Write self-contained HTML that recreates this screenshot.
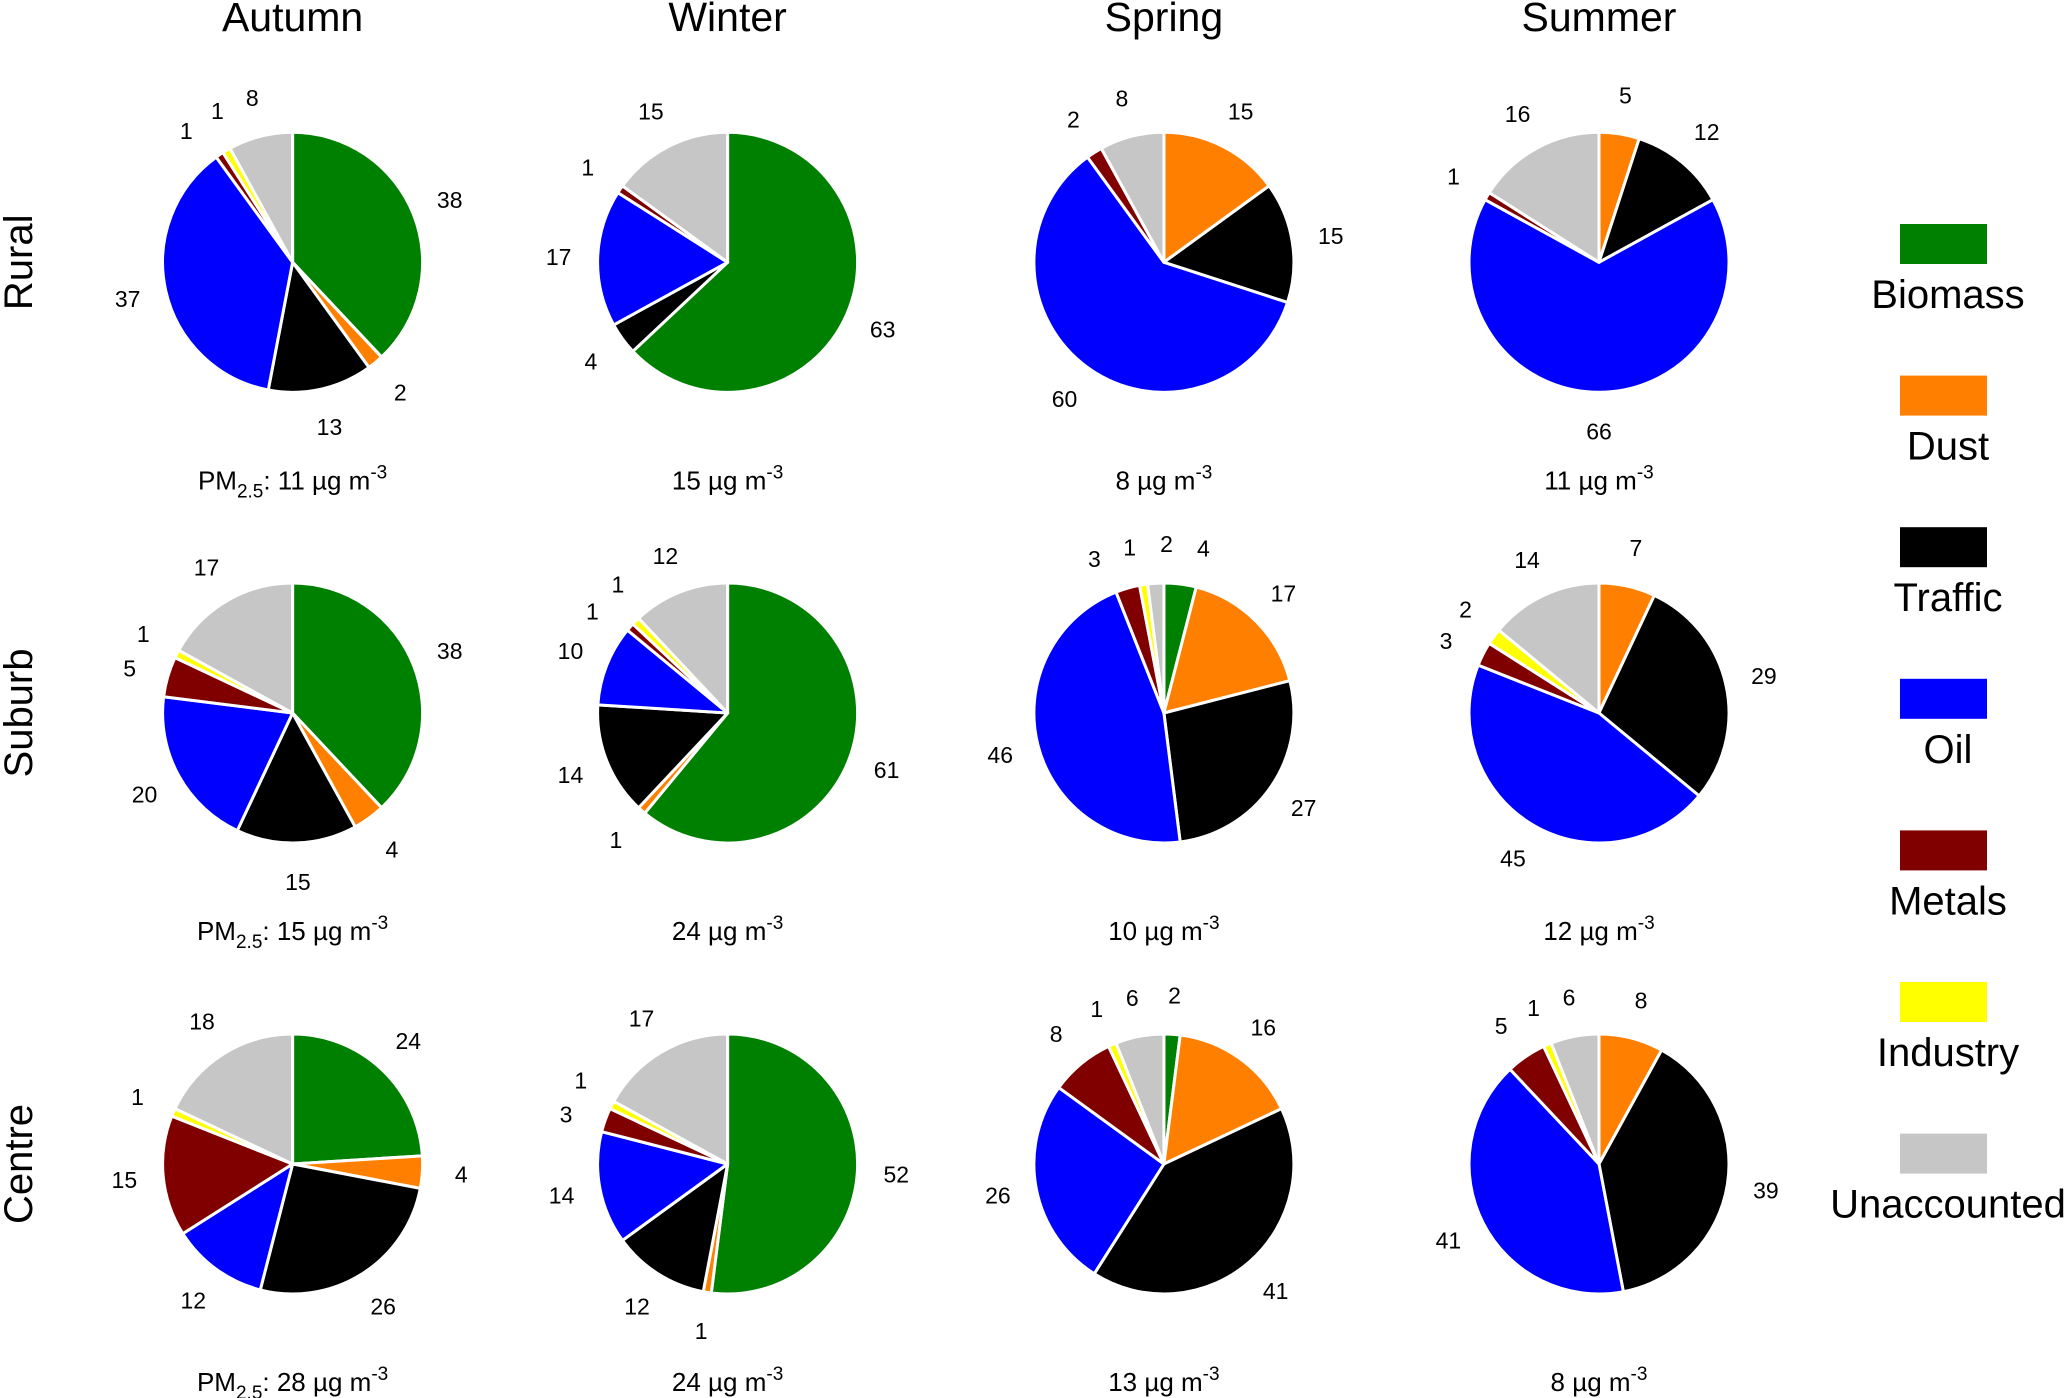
<!DOCTYPE html>
<html><head><meta charset="utf-8"><style>
html,body{margin:0;padding:0;background:#fff;}
svg{display:block;font-family:"Liberation Sans",Arial,sans-serif;}
</style></head><body>
<svg id="chart" width="2067" height="1398" viewBox="0 0 2067 1398" xmlns="http://www.w3.org/2000/svg"></svg>
<script>
const seasons = ["Autumn","Winter","Spring","Summer"];
const sites = ["Rural","Suburb","Centre"];
const sources = ["Biomass","Dust","Traffic","Oil","Metals","Industry","Unaccounted"];
const colors = ["#008000","#ff8000","#000000","#0000ff","#800000","#ffff00","#c6c6c6"];
const rural = [[38,2,13,37,1,1,8],[63,0,4,17,1,0,15],[0,15,15,60,2,0,8],[0,5,12,66,1,0,16]];
const suburb = [[38,4,15,20,5,1,17],[61,1,14,10,1,1,12],[4,17,27,46,3,1,2],[0,7,29,45,3,2,14]];
const centre = [[24,4,26,12,15,1,18],[52,1,12,14,3,1,17],[2,16,41,26,8,1,6],[0,8,39,41,5,1,6]];
const pm25 = [[11,15,8,11],[15,24,10,12],[28,24,13,8]];

const data = [rural, suburb, centre];
const svg = document.getElementById('chart');
const NS = "http://www.w3.org/2000/svg";
const colX = [292.6,727.6,1163.9,1599];
const rowY = [262.3,713,1164];
const R = 130;

function mk(tag, attrs, parent){
  const e = document.createElementNS(NS, tag);
  for (const k in attrs) e.setAttribute(k, attrs[k]);
  (parent||svg).appendChild(e);
  return e;
}
function pt(cx, cy, r, frac){
  const a = frac*2*Math.PI;
  return [cx + r*Math.sin(a), cy - r*Math.cos(a)];
}

seasons.forEach((s,i)=>{
  const t = mk('text',{x:colX[i], y:31, 'text-anchor':'middle', 'font-size':41});
  t.textContent = s;
  
  
});
sites.forEach((s,j)=>{
  const t = mk('text',{x:0, y:0, 'text-anchor':'middle', 'font-size':40, transform:`translate(32,${rowY[j]}) rotate(-90)`});
  t.textContent = s;
  
  
});

for (let j=0;j<3;j++){
  for (let i=0;i<4;i++){
    const vals = data[j][i];
    const total = vals.reduce((a,b)=>a+b,0);
    const cx = colX[i], cy = rowY[j];
    const g = mk('g',{});
    
    
    let cum = 0;
    const labs = [];
    vals.forEach((v,k)=>{
      if (v<=0) return;
      const f0 = cum/total, f1 = (cum+v)/total;
      cum += v;
      const p0 = pt(cx,cy,R,f0), p1 = pt(cx,cy,R,f1);
      const large = (f1-f0) > 0.5 ? 1 : 0;
      const p = mk('path',{d:`M${cx},${cy} L${p0[0]},${p0[1]} A${R},${R} 0 ${large} 1 ${p1[0]},${p1[1]} Z`, fill:colors[k], stroke:'#fff', 'stroke-width':3, 'stroke-linejoin':'round'}, g);
      
      
      labs.push({v:v, k:k, f:(f0+f1)/2});
    });
    // spread crowded labels (circular)
    const minSep = 0.035;
    const n = labs.length;
    for (let it=0; it<30; it++){
      for (let a=0; a<n; a++){
        const b = (a+1)%n;
        if (n<2) break;
        let d = labs[b].f - labs[a].f;
        if (b===0) d += 1;
        if (d < minSep){
          const push = (minSep - d)/2;
          labs[a].f -= push; labs[b].f += push;
        }
      }
    }
    labs.forEach(L=>{
      const lp = pt(cx,cy,R*1.3,L.f);
      const t = mk('text',{x:lp[0], y:lp[1]+8, 'text-anchor':'middle', 'font-size':23}, g);
      t.textContent = L.v;
      
      
    });
    const pmY = rowY[j] + 227;
    const t = mk('text',{x:cx, y:pmY, 'text-anchor':'middle', 'font-size':26});
    
    
    if (i===0){
      const a = mk('tspan',{},t); a.textContent='PM';
      const b = mk('tspan',{dy:8,'font-size':19},t); b.textContent='2.5';
      const c = mk('tspan',{dy:-8},t); c.textContent=': ' + pm25[j][i] + ' \u00b5g m';
    } else {
      const c = mk('tspan',{},t); c.textContent = pm25[j][i] + ' \u00b5g m';
    }
    const sup = mk('tspan',{dy:-11,'font-size':19},t); sup.textContent='-3';
  }
}

sources.forEach((s,k)=>{
  const y = 224 + k*151.6;
  const g = mk('g',{});
  
  
  mk('rect',{x:1900, y:y, width:87, height:40, fill:colors[k]}, g);
  const t = mk('text',{x:1948, y:y+84, 'text-anchor':'middle', 'font-size':40}, g);
  t.textContent = s;
});
</script>
</body></html>
